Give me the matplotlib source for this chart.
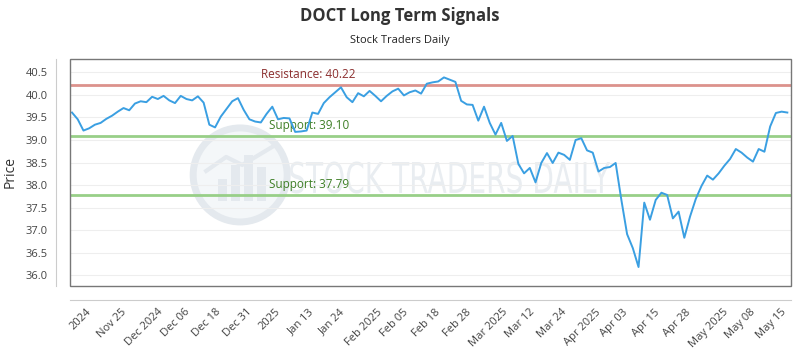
#!/usr/bin/env python3
"""doct_signals.py"""

import matplotlib

matplotlib.use("Agg")
import matplotlib.pyplot as plt
import numpy as np
from matplotlib import font_manager
from matplotlib.font_manager import FontProperties
from matplotlib.patches import Ellipse, PathPatch, Rectangle
from matplotlib.text import TextPath
from matplotlib.transforms import Affine2D, IdentityTransform

# Closing prices (one per trading day)
prices = [
    39.61, 39.46, 39.21, 39.26, 39.34, 39.38, 39.47, 39.54, 39.63, 39.71,
    39.66, 39.81, 39.86, 39.84, 39.96, 39.91, 39.98, 39.88, 39.82, 39.98,
    39.91, 39.88, 39.97, 39.83, 39.34, 39.28, 39.52, 39.69, 39.86, 39.93,
    39.67, 39.46, 39.41, 39.39, 39.58, 39.74, 39.46, 39.49, 39.48, 39.18,
    39.19, 39.21, 39.61, 39.58, 39.82, 39.95, 40.06, 40.17, 39.95, 39.84,
    40.04, 39.97, 40.09, 39.98, 39.86, 39.98, 40.08, 40.14, 39.99, 40.06,
    40.10, 40.03, 40.25, 40.28, 40.30, 40.39, 40.34, 40.29, 39.87, 39.79,
    39.78, 39.43, 39.74, 39.38, 39.12, 39.38, 38.98, 39.09, 38.47, 38.26,
    38.38, 38.06, 38.49, 38.71, 38.49, 38.72, 38.67, 38.56, 39.00, 39.04,
    38.77, 38.72, 38.30, 38.38, 38.40, 38.49, 37.67, 36.91, 36.60, 36.18,
    37.61, 37.23, 37.67, 37.83, 37.78, 37.26, 37.41, 36.83, 37.30, 37.69,
    37.98, 38.21, 38.12, 38.26, 38.43, 38.58, 38.80, 38.72, 38.61, 38.52,
    38.80, 38.74, 39.30, 39.60, 39.63, 39.61,
]

tick_labels = [
    "2024", "Nov 25", "Dec 2024", "Dec 06", "Dec 18", "Dec 31", "2025",
    "Jan 13", "Jan 24", "Feb 2025", "Feb 05", "Feb 18", "Feb 28", "Mar 2025",
    "Mar 12", "Mar 24", "Apr 2025", "Apr 03", "Apr 15", "Apr 28", "May 2025",
    "May 08", "May 15",
]

resistance = 40.22
supports = [39.10, 37.79]
y_ticks = [36.0, 36.5, 37.0, 37.5, 38.0, 38.5, 39.0, 39.5, 40.0, 40.5]


def pick_font(names, default="DejaVu Sans"):
    for name in names:
        try:
            font_manager.findfont(name, fallback_to_default=False)
            return name
        except ValueError:
            continue
    return default


def add_watermark(ax, family):
    wm = "#e4e9ee"
    # round logo, sized in pixels so it stays a circle
    ax_w = 0.9013 * 800
    ax_h = 0.6486 * 350
    r = 47
    cx, cy = 0.236, 0.489
    ax.add_patch(Ellipse((cx, cy), 2 * r / ax_w, 2 * r / ax_h,
                         transform=ax.transAxes, facecolor="#f4f7f9",
                         edgecolor=wm, lw=5, zorder=0.2))
    for dx, bh in [(-22, 22), (-9, 36), (4, 46), (17, 34)]:
        ax.add_patch(Rectangle((cx + dx / ax_w, cy - 26 / ax_h), 9 / ax_w,
                               bh / ax_h, transform=ax.transAxes,
                               facecolor=wm, edgecolor="none", zorder=0.2))
    ax.plot([cx - 34 / ax_w, cx - 14 / ax_w, cx + 2 / ax_w, cx + 32 / ax_w],
            [cy + 4 / ax_h, cy + 18 / ax_h, cy + 10 / ax_h, cy + 28 / ax_h],
            transform=ax.transAxes, color=wm, lw=3, zorder=0.2)

    # condensed lettering: squeeze a text path into the box it fills
    tp = TextPath((0, 0), "STOCK TRADERS DAILY", size=40,
                  prop=FontProperties(family=family))
    ext = tp.get_extents()
    x0, x1, y0, y1 = 290, 610, 156.5, 188.5
    tr = (Affine2D().translate(-ext.x0, -ext.y0)
          .scale((x1 - x0) / ext.width, (y1 - y0) / ext.height)
          .translate(x0, y0))
    ax.add_patch(PathPatch(tr.transform_path(tp), facecolor="#e9edf1",
                           edgecolor="none", transform=IdentityTransform(),
                           zorder=0.2))


def main():
    base = pick_font(["Open Sans"])
    plt.rcParams["font.family"] = [base, "DejaVu Sans"]

    fig = plt.figure(figsize=(8, 3.5), dpi=100)
    ax = fig.add_axes([0.0875, 0.183, 0.9013, 0.6486])

    x = np.arange(len(prices))
    ax.set_xlim(-0.35, len(prices) - 1 + 0.65)
    ax.set_ylim(35.76, 40.80)

    add_watermark(ax, "DejaVu Sans")

    ax.grid(axis="y", color="#eeeeee", lw=0.8)
    ax.set_axisbelow(True)

    ax.axhline(resistance, color="#dc928c", lw=2, zorder=2)
    ax.text(33.0, resistance + 0.08, f"Resistance: {resistance:.2f}",
            color="#8c2f2f", fontsize=8.5, va="bottom", ha="left")
    for s in supports:
        ax.axhline(s, color="#98cf88", lw=2, zorder=2)
        ax.text(34.4, s + 0.08, f"Support: {s:.2f}",
                color="#3e7f26", fontsize=8.5, va="bottom", ha="left")

    ax.plot(x, prices, color="#3a9fe2", lw=1.4, zorder=3)

    ax.set_yticks(y_ticks)
    ax.set_yticklabels([f"{v:.1f}" for v in y_ticks])
    ax.set_xticks(np.linspace(1.6, 122.2, len(tick_labels)))
    ax.set_xticklabels(tick_labels)
    ax.tick_params(length=0, labelsize=8, colors="#444444")
    ax.tick_params(axis="y", pad=6)
    ax.tick_params(axis="x", pad=5, labelrotation=45)
    plt.setp(ax.get_xticklabels(), ha="right", rotation_mode="default")
    ax.set_ylabel("Price", fontsize=10, color="#333333", labelpad=6)

    # offset light axes plus a darker frame around the plotting area
    for side in ("left", "bottom"):
        ax.spines[side].set_position(("outward", 10))
        ax.spines[side].set_color("#cccccc")
    for side in ("top", "right"):
        ax.spines[side].set_visible(False)
    ax.add_patch(Rectangle((0, 0), 1, 1, transform=ax.transAxes, fill=False,
                           edgecolor="#777777", lw=1, clip_on=False, zorder=4))

    fig.text(0.5, 0.955, "DOCT Long Term Signals", ha="center", va="center",
             fontsize=12, fontweight="bold", color="#333333")
    fig.text(0.5, 0.885, "Stock Traders Daily", ha="center", va="center",
             fontsize=8, color="#222222")

    fig.savefig("out.png", dpi=100)


if __name__ == "__main__":
    main()
